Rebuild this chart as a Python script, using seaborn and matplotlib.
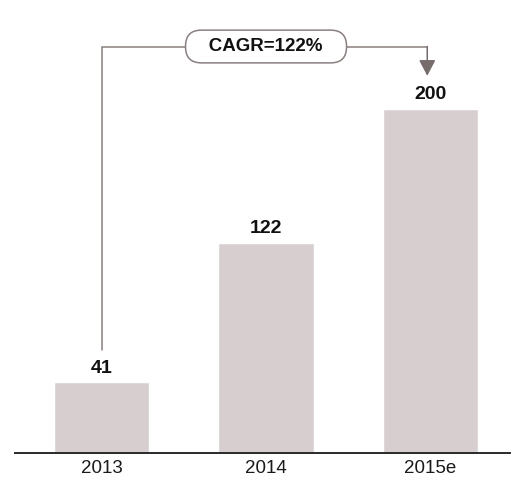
import matplotlib
matplotlib.use("Agg")
import matplotlib.pyplot as plt
import seaborn as sns
import pandas as pd

# Data
years = ["2013", "2014", "2015e"]
values = [41, 122, 200]
cagr_label = "CAGR=122%"

bar_color = "#d7cfcf"
line_color = "#8a7f7f"
arrow_color = "#766c6c"

sns.set_theme(style="white")
plt.rcParams["font.family"] = ["Liberation Sans Narrow", "Liberation Sans", "DejaVu Sans"]

df = pd.DataFrame({"year": years, "value": values})

fig = plt.figure(figsize=(5.14, 4.91), dpi=100)
ax = fig.add_axes([15 / 514, 38 / 491, 495 / 514, 453 / 491])

sns.barplot(data=df, x="year", y="value", color=bar_color, width=0.58,
            saturation=1, ax=ax)

ax.set_xlim(-0.526, 2.483)
ax.set_ylim(0, 263)
ax.set_xlabel("")
ax.set_ylabel("")
ax.set_yticks([])
for side in ["top", "left", "right"]:
    ax.spines[side].set_visible(False)
ax.spines["bottom"].set_color("#2a2a2a")
ax.spines["bottom"].set_linewidth(1.4)
ax.tick_params(axis="x", length=0, pad=5, labelsize=13.5, colors="#1a1a1a")

# Value labels above bars
for i, v in enumerate(values):
    ax.annotate(str(v), (i, v), xytext=(0, 4), textcoords="offset points",
                ha="center", va="bottom", fontsize=14, fontweight="bold",
                color="#111111")

# CAGR bracket from the first to the last bar
bracket_y = 236
gap = 19
ax.plot([0, 0, 1.98], [values[0] + gap, bracket_y, bracket_y],
        color=line_color, lw=1.1, solid_joinstyle="miter", zorder=3)
ax.annotate("", xy=(1.98, values[-1] + gap), xytext=(1.98, bracket_y),
            arrowprops=dict(arrowstyle="-|>,head_length=0.8,head_width=0.42",
                            color=arrow_color, lw=1.1, shrinkA=0, shrinkB=0),
            zorder=3)
ax.text(1.0, bracket_y, "   " + cagr_label + "   ", ha="center", va="center",
        fontsize=13.5, fontweight="bold", color="#111111", zorder=4,
        bbox=dict(boxstyle="round,pad=0.42,rounding_size=0.85", fc="white",
                  ec=line_color, lw=1.1))

fig.savefig("out.png", dpi=100)
